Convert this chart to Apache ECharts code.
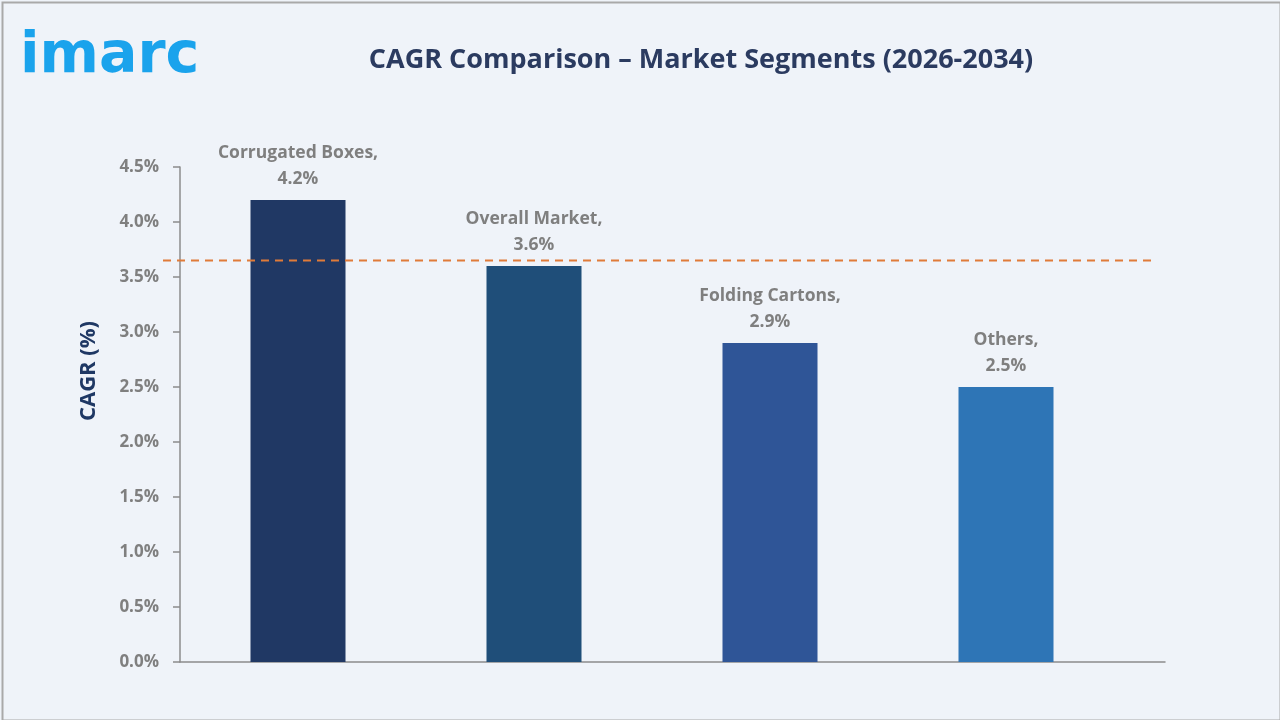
<!DOCTYPE html>
<html>
<head>
<meta charset="utf-8">
<script src="https://cdn.jsdelivr.net/npm/echarts@6/dist/echarts.min.js"></script>
<style>
html,body{margin:0;padding:0;background:#EFF3F9;}
#c{width:1280px;height:720px;}
</style>
</head>
<body>
<div id="c"></div>
<script>
const categories = ['Corrugated Boxes', 'Overall Market', 'Folding Cartons', 'Others'];
const cagrValues = [4.2, 3.6, 2.9, 2.5];
const barColors = ['#203864', '#1F4E79', '#2F5597', '#2E75B6'];
const referenceLine = 3.65;
const yTicks = [0, 0.5, 1.0, 1.5, 2.0, 2.5, 3.0, 3.5, 4.0, 4.5];

const chart = echarts.init(document.getElementById('c'), null, {renderer: 'canvas'});
const labelFont = '"Open Sans", sans-serif';

chart.setOption({
  backgroundColor: '#EFF3F9',
  animation: false,
  title: {
    text: 'CAGR Comparison – Market Segments (2026-2034)',
    left: 696, top: 42, textAlign: 'center',
    textStyle: {fontFamily: labelFont, fontWeight: 'bold', fontSize: 27, color: '#2B3B60'}
  },
  graphic: [
    {type: 'rect', left: 0, top: 0, shape: {x: 1, y: 1, width: 1278, height: 718}, style: {fill: 'none', stroke: '#A9A9A9', lineWidth: 2}, z: 100},
    {type: 'text', left: 20, top: 29, style: {text: 'imarc', font: 'bold 57px "DejaVu Sans", sans-serif', fill: '#1AA3EC'}},
    {type: 'text', x: 89, y: 371, rotation: Math.PI / 2, style: {text: 'CAGR (%)', font: 'bold 22px ' + labelFont, fill: '#1F3864', align: 'center', verticalAlign: 'middle'}}
  ],
  grid: [
    {left: 180, right: 156, top: 167, bottom: 58},
    {left: 180, right: 115, top: 167, bottom: 58},
    {left: 163, right: 128, top: 167, bottom: 58}
  ],
  xAxis: [
    {type: 'category', gridIndex: 0, data: categories, axisLine: {show: false}, axisTick: {show: false}, axisLabel: {show: false}},
    {type: 'value', gridIndex: 1, min: 0, max: 1, axisLine: {show: true, onZero: false, lineStyle: {color: '#8C8C8C', width: 1.5}}, axisTick: {show: false}, axisLabel: {show: false}, splitLine: {show: false}},
    {type: 'value', gridIndex: 2, min: 0, max: 1, show: false}
  ],
  yAxis: [
    {type: 'value', gridIndex: 0, min: 0, max: 4.5, interval: 0.5,
      axisLine: {show: true, lineStyle: {color: '#8C8C8C', width: 1.5}},
      axisTick: {show: true, inside: false, length: 7, lineStyle: {color: '#8C8C8C', width: 1.5}},
      splitLine: {show: false},
      axisLabel: {margin: 21, fontFamily: labelFont, fontWeight: 'bold', fontSize: 17, color: '#7F7F7F',
        formatter: v => v.toFixed(1) + '%'}},
    {type: 'value', gridIndex: 1, min: 0, max: 4.5, show: false},
    {type: 'value', gridIndex: 2, min: 0, max: 4.5, show: false}
  ],
  series: [
    {
      type: 'bar', xAxisIndex: 0, yAxisIndex: 0, barWidth: 95,
      data: cagrValues.map((v, i) => ({value: v, itemStyle: {color: barColors[i]}})),
      label: {
        show: true, position: 'top', distance: 8,
        fontFamily: labelFont, fontWeight: 'bold', fontSize: 17.5, color: '#7F7F7F', lineHeight: 26,
        formatter: p => categories[p.dataIndex] + ',\n' + p.value.toFixed(1) + '%'
      }
    },
    {
      type: 'line', xAxisIndex: 2, yAxisIndex: 2, symbol: 'none',
      data: [[0, referenceLine], [1, referenceLine]],
      lineStyle: {color: '#E07B39', width: 2, type: [8, 6]}
    }
  ]
});
</script>
</body>
</html>
